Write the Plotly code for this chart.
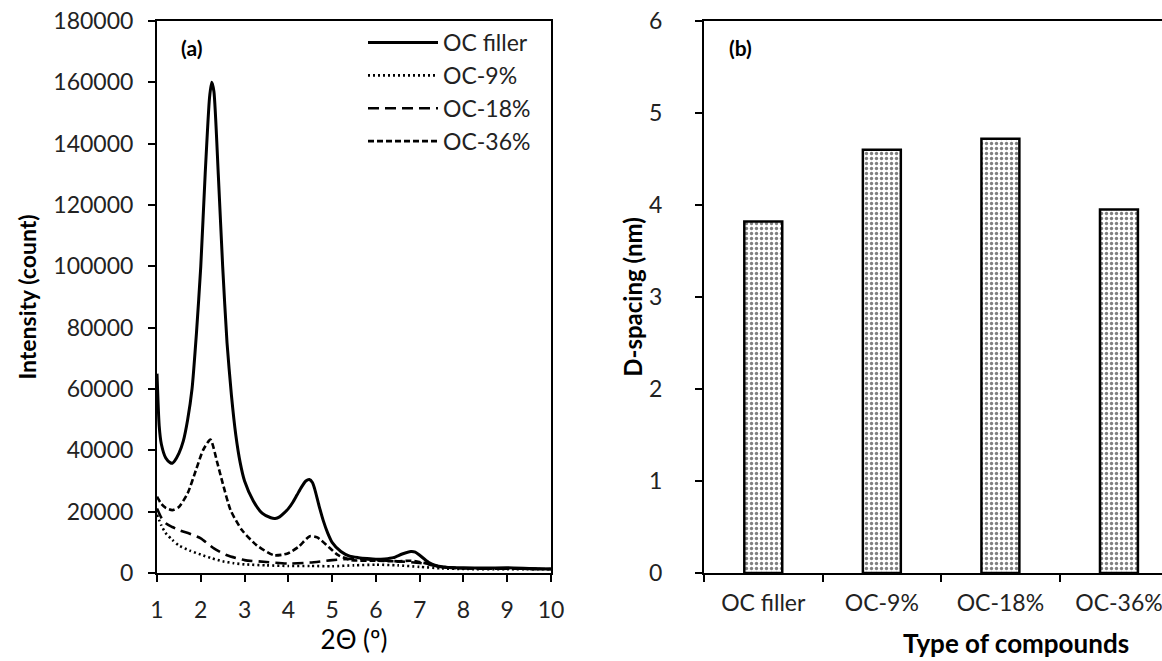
import plotly.graph_objects as go

# ---------------- data: panel (a) XRD patterns ----------------
x_filler = [1.0, 1.05, 1.1, 1.2, 1.3, 1.35, 1.4, 1.5, 1.6, 1.7, 1.8, 1.9, 2.0, 2.1, 2.2, 2.25, 2.3, 2.4, 2.5,
            2.6, 2.7, 2.8, 2.9, 3.0, 3.2, 3.4, 3.6, 3.7, 3.8, 3.9, 4.0, 4.1, 4.2, 4.3, 4.4, 4.48, 4.55, 4.6,
            4.7, 4.8, 4.9, 5.0, 5.2, 5.4, 5.6, 5.8, 6.0, 6.2, 6.4, 6.6, 6.8, 6.9, 7.0, 7.2, 7.4, 7.6, 8.0,
            8.5, 9.0, 9.5, 10.0]
y_filler = [65000, 48000, 42000, 37500, 36000, 35800, 36500, 39000, 43000, 50000, 60000, 78000, 100000,
            130000, 155000, 160000, 157000, 130000, 100000, 75000, 58000, 45000, 36000, 30000, 23500,
            19500, 18000, 17800, 18300, 19500, 21000, 23000, 25500, 28000, 30000, 30500, 29500, 27500,
            22000, 17000, 13000, 10000, 7000, 5500, 5000, 4700, 4500, 4600, 5000, 6200, 7000, 6800, 5800,
            3500, 2300, 1900, 1700, 1600, 1700, 1500, 1300]

x_oc9 = [1.0, 1.1, 1.2, 1.35, 1.5, 1.75, 2.0, 2.25, 2.5, 2.75, 3.0, 3.5, 4.0, 4.5, 5.0, 5.5, 6.0, 6.5,
         7.0, 7.5, 8.0, 9.0, 10.0]
y_oc9 = [19000, 15500, 13000, 10800, 9000, 7300, 6000, 4800, 3800, 3200, 2800, 2500, 2300, 2300, 2200,
         2500, 2700, 2500, 2000, 1500, 1300, 1250, 1200]

x_oc18 = [1.0, 1.1, 1.2, 1.35, 1.5, 1.75, 2.0, 2.3, 2.6, 3.0, 3.5, 4.0, 4.5, 5.0, 5.5, 6.0, 6.5, 7.0,
          7.5, 8.0, 9.0, 10.0]
y_oc18 = [21000, 18000, 16200, 15000, 14000, 12800, 11300, 8000, 5800, 4200, 3600, 3100, 3400, 4200,
          4700, 4200, 3800, 3300, 2000, 1500, 1400, 1300]

x_oc36 = [1.0, 1.1, 1.2, 1.35, 1.5, 1.7, 1.9, 2.05, 2.22, 2.38, 2.5, 2.68, 2.94, 3.28, 3.67, 3.97, 4.23,
          4.49, 4.66, 4.92, 5.14, 5.44, 6.0, 6.5, 6.8, 7.1, 7.5, 8.0, 9.0, 10.0]
y_oc36 = [24900, 22500, 21200, 20500, 21500, 26000, 34000, 40000, 43500, 35800, 29300, 20500, 14000,
          9000, 5800, 6300, 8500, 12000, 11600, 8500, 5800, 4200, 4000, 3800, 4000, 3300, 2000, 1500,
          1400, 1300]

series_names = ["OC filler", "OC-9%", "OC-18%", "OC-36%"]

# ---------------- data: panel (b) d-spacing ----------------
compounds = ["OC filler", "OC-9%", "OC-18%", "OC-36%"]
d_spacing = [3.82, 4.60, 4.72, 3.95]

FONT = "Lato"
TICKSIZE = 23

fig = go.Figure()

line_specs = [
    (x_filler, y_filler, "solid"),
    (x_oc9, y_oc9, "2px,3px"),
    (x_oc18, y_oc18, "11px,6px"),
    (x_oc36, y_oc36, "6px,3px"),
]
for name, (xs, ys, dash) in zip(series_names, line_specs):
    fig.add_trace(go.Scatter(
        x=xs, y=ys, name=name, mode="lines",
        line=dict(color="black", width=3 if dash == "solid" else 2.6, dash=dash, shape="spline", smoothing=0.6),
        xaxis="x", yaxis="y",
    ))

fig.add_trace(go.Bar(
    x=compounds, y=d_spacing, width=0.32, showlegend=False,
    marker=dict(color="white", line=dict(color="black", width=2.5),
                pattern=dict(shape=".", fgcolor="black", bgcolor="white", size=5, solidity=0.35)),
    xaxis="x2", yaxis="y2",
))

ydom = [88/661, 1 - 21/661]
axis_common = dict(showline=True, linecolor="black", linewidth=2, ticks="outside", tickcolor="black",
                   tickwidth=2, ticklen=7, showgrid=False, zeroline=False, automargin=False,
                   tickfont=dict(family=FONT, size=TICKSIZE, color="#222"))

fig.update_layout(
    width=1162, height=661,
    margin=dict(l=0, r=0, t=0, b=0, autoexpand=False),
    paper_bgcolor="white", plot_bgcolor="white",
    font=dict(family=FONT, color="black"),
    xaxis=dict(domain=[157/1162, 551/1162], range=[1, 10], dtick=1, mirror=True, anchor="y",
               ticklabelstandoff=8,
               title=dict(text="2\u0398 (\u00ba)", font=dict(family=FONT, size=26, color="black"), standoff=8),
               **axis_common),
    yaxis=dict(domain=ydom, range=[0, 180000], dtick=20000, tickformat="d", mirror=True, anchor="x",
               ticklabelstandoff=10,
               title=dict(text="<b>Intensity (count)</b>", font=dict(family=FONT, size=23, color="black"), standoff=10),
               **axis_common),
    xaxis2=dict(domain=[704/1162, 1.0], range=[-0.5, 3.363], mirror=True, anchor="y2",
                ticklabelstandoff=8,
                tickson="boundaries", type="category", **axis_common),
    yaxis2=dict(domain=ydom, range=[0, 6], dtick=1, anchor="x2", ticklabelstandoff=28,
                title=dict(text="<b>D-spacing (nm)</b>", font=dict(family=FONT, size=24, color="black"), standoff=0),
                **axis_common),
    legend=dict(x=363/1162, y=1 - 21/661, xanchor="left", yanchor="top", bgcolor="rgba(0,0,0,0)",
                font=dict(family=FONT, size=23, color="#222"), itemwidth=70, tracegroupgap=0,
                traceorder="normal"),
    annotations=[
        dict(text="<b>(a)</b>", x=191/1162, y=1 - 47/661, xref="paper", yref="paper", showarrow=False,
             xanchor="center", yanchor="middle", font=dict(family=FONT, size=21, color="black")),
        dict(text="<b>(b)</b>", x=740/1162, y=1 - 47/661, xref="paper", yref="paper", showarrow=False,
             xanchor="center", yanchor="middle", font=dict(family=FONT, size=21, color="black")),
        dict(text="<b>Type of compounds</b>", x=1016/1162, y=1 - 643/661, xref="paper", yref="paper",
             showarrow=False, xanchor="center", yanchor="middle", font=dict(family=FONT, size=26, color="black")),
    ],
)

fig.write_html("out.html")
